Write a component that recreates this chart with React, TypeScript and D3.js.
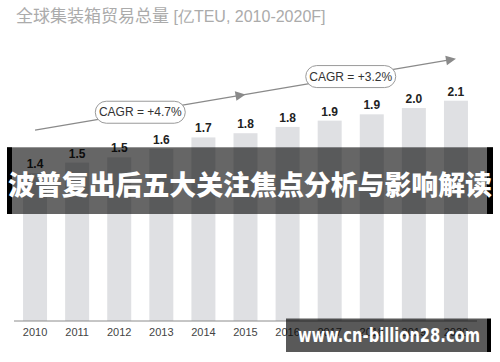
import React from "react";
import * as d3 from "d3";

const years = ["2010", "2011", "2012", "2013", "2014", "2015", "2016", "2017", "2018", "2019", "2020"];
const values = [1.41, 1.51, 1.56, 1.64, 1.75, 1.79, 1.85, 1.91, 1.97, 2.03, 2.1];
const valueLabels = ["1.4", "1.5", "1.5", "1.6", "1.7", "1.8", "1.8", "1.9", "1.9", "2.0", "2.1"];
const trendStart = 1.82; // trend line level at 2010
const trendEnd = 2.5; // trend line level at 2020
const cagrLabels = ["CAGR = +4.7%", "CAGR = +3.2%"];
const titleMain = "全球集装箱贸易总量";
const titleUnit = " [亿TEU, 2010-2020F]";
const bannerText = "波普复出后五大关注焦点分析与影响解读";
const watermark = "www.cn-billion28.com";

const W = 500;
const H = 362;
const latin = "'Liberation Sans', Arial, sans-serif";
const cjk = "'Noto Sans CJK SC', 'Liberation Sans', sans-serif";

export default function App() {
  const x = d3.scaleBand<string>().domain(years).range([14, 477]).paddingInner(0.43).paddingOuter(0.215);
  const y = d3.scaleLinear().domain([0, 2.1]).range([321, 100.7]);
  const cx = (i: number) => (x(years[i]) as number) + x.bandwidth() / 2;
  const trendY = d3.scaleLinear().domain([0, years.length - 1]).range([trendStart, trendEnd]);
  const p = (t: number) => [cx(0) + (cx(10) - cx(0)) * (t / 10), y(trendY(t))];
  const line = d3.line();
  const [x0, y0] = p(0);
  const [x1, y1] = p(10);
  const ang = Math.atan2(y1 - y0, x1 - x0);
  const head = (tx: number, ty: number) => {
    const L = 10, hw = 4.8;
    const bx = tx - L * Math.cos(ang), by = ty - L * Math.sin(ang);
    const nx = -Math.sin(ang) * hw, ny = Math.cos(ang) * hw;
    return `M${tx},${ty}L${bx + nx},${by + ny}L${bx - nx},${by - ny}Z`;
  };
  const mid = p(5);
  const end = p(10);
  const pills = [p(2.5), p(7.5)];

  return (
    <svg width={W} height={H} style={{ position: "absolute", left: 0, top: 0, background: "#fff" }}>
      <text x={16} y={22} fontSize={17} fill="#ababab" fontFamily={cjk}>
        {titleMain}
        <tspan fontFamily={latin} fontSize={16}>{titleUnit}</tspan>
      </text>

      {values.map((v, i) => (
        <rect key={years[i]} x={x(years[i])} y={y(v)} width={x.bandwidth()} height={y(0) - y(v)} fill="#dfe0e3" />
      ))}
      {values.map((v, i) => (
        <text key={"l" + i} x={cx(i)} y={y(v) - 5} textAnchor="middle" fontSize={12} fontWeight="bold" fill="#222" fontFamily={latin}>
          {valueLabels[i]}
        </text>
      ))}

      <line x1={14} x2={477} y1={y(0)} y2={y(0)} stroke="#8c8c8c" strokeWidth={1} />
      {years.map((yr, i) => (
        <text key={"y" + yr} x={cx(i)} y={336} textAnchor="middle" fontSize={11} fill="#444" fontFamily={latin}>
          {yr}
        </text>
      ))}

      <path d={line([[x0, y0], [x1 - 5, y1 - 5 * Math.tan(ang)]]) || ""} stroke="#8a8a8a" strokeWidth={1.2} fill="none" />
      <path d={head(mid[0], mid[1])} fill="#8a8a8a" />
      <path d={head(end[0], end[1])} fill="#8a8a8a" />
      {pills.map(([px, py], i) => (
        <g key={"p" + i}>
          <rect x={px - 45} y={py - 11} width={90} height={22} rx={11} fill="#fff" stroke="#9a9a9a" strokeWidth={1} />
          <text x={px} y={py + 4.2} textAnchor="middle" fontSize={12} fill="#333" fontFamily={latin}>
            {cagrLabels[i]}
          </text>
        </g>
      ))}

      <rect x={7} y={147.3} width={486} height={66.7} fill="rgba(0,0,0,0.6)" />
      <rect x={7} y={147.3} width={5} height={66.7} fill="#000" />
      <rect x={487} y={147.3} width={6} height={66.7} fill="#000" />
      <text x={250} y={195} textAnchor="middle" fontSize={27} fontWeight={900} fill="#fff" fontFamily={cjk} textLength={484} lengthAdjust="spacingAndGlyphs">
        {bannerText}
      </text>

      <rect x={286} y={318.5} width={201} height={33.5} fill="rgba(0,0,0,0.65)" />
      <rect x={487} y={318.5} width={4} height={33.5} fill="#000" />
      <text x={389} y={341.5} textAnchor="middle" fontSize={19} fontWeight="bold" fill="#fff" fontFamily="'DejaVu Sans', sans-serif" textLength={182} lengthAdjust="spacingAndGlyphs">
        {watermark}
      </text>
    </svg>
  );
}
